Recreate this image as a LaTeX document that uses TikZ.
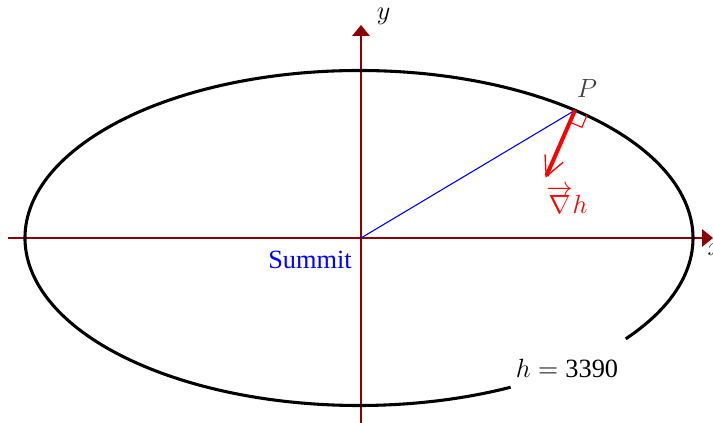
\documentclass[tikz,border=0pt]{standalone}
\usepackage{fontspec}
\setmainfont{Liberation Serif}
\usepackage{amsmath}
\usetikzlibrary{calc,arrows.meta}
\definecolor{axisred}{HTML}{8B0000}
\definecolor{gradred}{HTML}{FF0000}
\definecolor{summitblue}{HTML}{0000FF}

\begin{document}
\begin{tikzpicture}[x=0.016cm,y=0.016cm,font=\fontsize{12}{14}\selectfont,
  axis/.style={axisred,line width=0.6pt,-{Triangle[length=5pt,width=8pt]}}]
\useasboundingbox (-361,-185) rectangle (352,238);
% axes
\coordinate (O) at (0,0);
\coordinate (xw) at (-353,0);
\coordinate (xe) at (352,0);
\coordinate (ys) at (0,-185);
\coordinate (yn) at (0,213);
\draw[axis] (xw) -- (xe);
\draw[axis] (ys) -- (yn);
\node[anchor=west] (ylab) at (8,222) {$y$};
\node (xlab) at (354,-12) {$x$};
% level curve, broken for its label
\coordinate (C) at (-2,0);
\draw[line width=1.4pt] ($(C)+(-37:334 and 167.5)$) arc[start angle=-37,end angle=297,x radius=334,y radius=167.5];
\coordinate (P) at ($(C)+(49.7:334 and 167.5)$);
\draw[summitblue,line width=0.5pt] (O) -- (P);
% gradient, normal to the curve
\coordinate (G) at ($(P)+(-29.4,-67.5)$);
\draw[gradred,line width=1.8pt,-{Straight Barb[length=9pt,width=9pt,line width=0.6pt]}] (P) -- (G);
\draw[gradred,line width=0.5pt] ($(P)+(-0.391*13,-0.920*13)$) -- ++(0.920*13,-0.391*13) -- ($(P)+(0.920*13,-0.391*13)$);
\node[text=black!75] (Plab) at (226,150) {$P$};
\node[gradred] (gradlab) at (206,38) {$\overrightarrow{\nabla}h$};
\node[summitblue] (summit) at (-51,-22) {Summit};
\node (level) at (206,-130) {$h = \mbox{3390}$};
\end{tikzpicture}
\end{document}
